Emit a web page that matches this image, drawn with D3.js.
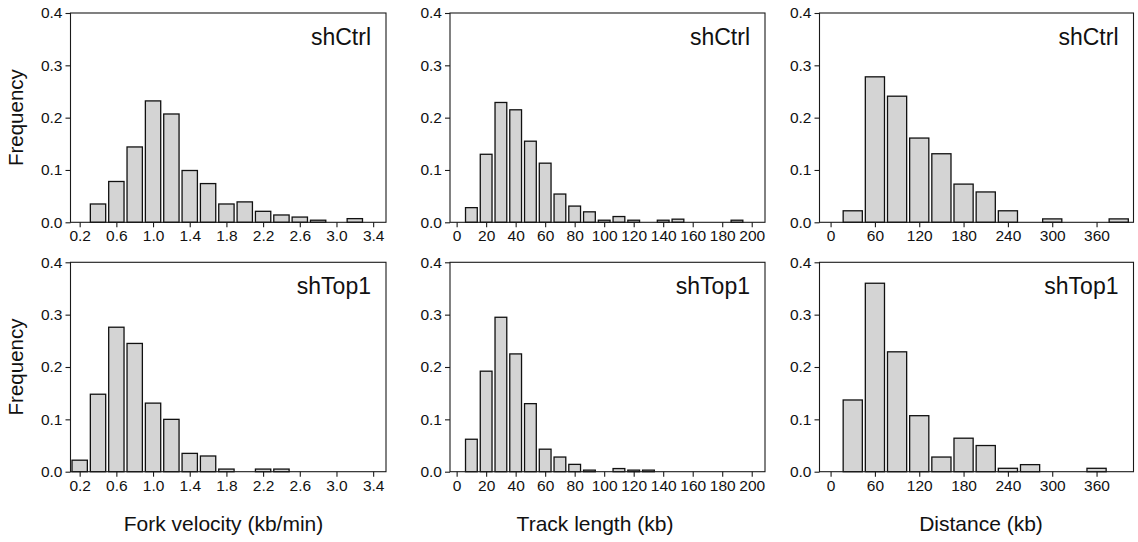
<!DOCTYPE html>
<html>
<head>
<meta charset="utf-8">
<script src="https://cdn.jsdelivr.net/npm/d3@7"></script>
<style>
  html, body { margin: 0; padding: 0; background: #fff; }
  svg { display: block; }
  text { font-family: "Liberation Sans", Arial, Helvetica, sans-serif; fill: #111; }
</style>
</head>
<body>
<svg id="chart" width="1138" height="542"></svg>
<script>
// ---------- data ----------
const velocityBinStarts = [0.1, 0.3, 0.5, 0.7, 0.9, 1.1, 1.3, 1.5, 1.7, 1.9, 2.1, 2.3, 2.5, 2.7, 2.9, 3.1];
const velocityBinWidth = 0.2;
const velocityCtrl = [0, 0.035, 0.078, 0.144, 0.232, 0.207, 0.099, 0.074, 0.035, 0.039, 0.021, 0.014, 0.010, 0.004, 0, 0.007];
const velocityTop1 = [0.022, 0.148, 0.276, 0.245, 0.131, 0.100, 0.035, 0.030, 0.005, 0, 0.005, 0.005, 0, 0, 0, 0];
const velocityTicks = [0.2, 0.6, 1.0, 1.4, 1.8, 2.2, 2.6, 3.0, 3.4];

const trackBinStarts = [5, 15, 25, 35, 45, 55, 65, 75, 85, 95, 105, 115, 125, 135, 145, 155, 165, 175, 185, 195];
const trackBinWidth = 10;
const trackCtrl = [0.028, 0.130, 0.229, 0.215, 0.155, 0.113, 0.054, 0.031, 0.020, 0.004, 0.011, 0.004, 0, 0.004, 0.006, 0, 0, 0, 0.004, 0];
const trackTop1 = [0.062, 0.192, 0.295, 0.225, 0.130, 0.043, 0.028, 0.014, 0.003, 0, 0.006, 0.003, 0.003, 0, 0, 0, 0, 0, 0, 0];
const trackTicks = [0, 20, 40, 60, 80, 100, 120, 140, 160, 180, 200];

const distBinStarts = [15, 45, 75, 105, 135, 165, 195, 225, 255, 285, 315, 345, 375];
const distBinWidth = 30;
const distCtrl = [0.022, 0.278, 0.241, 0.161, 0.131, 0.073, 0.058, 0.022, 0, 0.0065, 0, 0, 0.0065];
const distTop1 = [0.137, 0.360, 0.229, 0.107, 0.028, 0.064, 0.050, 0.0065, 0.0135, 0, 0, 0.0065, 0];
const distTicks = [0, 60, 120, 180, 240, 300, 360];

const yTicks = [0.0, 0.1, 0.2, 0.3, 0.4];
const groupLabels = ["shCtrl", "shTop1"];
const xTitles = ["Fork velocity (kb/min)", "Track length (kb)", "Distance (kb)"];
const yTitle = "Frequency";

// ---------- layout ----------
const columns = [
  { starts: velocityBinStarts, bw: velocityBinWidth, series: [velocityCtrl, velocityTop1], ticks: velocityTicks,
    domain: [0.1, 3.54], range: [70.5, 386], fmt: d3.format(".1f"), titleX: 223.5 },
  { starts: trackBinStarts, bw: trackBinWidth, series: [trackCtrl, trackTop1], ticks: trackTicks,
    domain: [-4.5, 209], range: [450, 765], fmt: d3.format("d"), titleX: 595 },
  { starts: distBinStarts, bw: distBinWidth, series: [distCtrl, distTop1], ticks: distTicks,
    domain: [-15, 410], range: [819.5, 1133.5], fmt: d3.format("d"), titleX: 981 }
];
const rows = [ { top: 13, bottom: 222.3 }, { top: 262.3, bottom: 471.7 } ];

const svg = d3.select("#chart");
const lineColor = "#1a1a1a";

columns.forEach((col, ci) => {
  const x = d3.scaleLinear().domain(col.domain).range(col.range);
  rows.forEach((row, ri) => {
    const y = d3.scaleLinear().domain([0, 0.4]).range([row.bottom, row.top]);
    const g = svg.append("g");
    const vals = col.series[ri];

    // bars
    const gap = 0.85;
    g.selectAll("rect.bar")
      .data(col.starts.map((s, i) => ({ s, v: vals[i] })).filter(d => d.v > 0))
      .enter().append("rect")
      .attr("class", "bar")
      .attr("x", d => x(d.s) + gap + 0.65)
      .attr("width", d => x(d.s + col.bw) - x(d.s) - 2 * gap - 1.3)
      .attr("y", d => y(d.v))
      .attr("height", d => y(0) - y(d.v))
      .attr("fill", "#d4d4d4")
      .attr("stroke", "#111")
      .attr("stroke-width", 1.3);

    // frame
    g.append("rect")
      .attr("x", col.range[0]).attr("y", row.top)
      .attr("width", col.range[1] - col.range[0])
      .attr("height", row.bottom - row.top)
      .attr("fill", "none").attr("stroke", lineColor).attr("stroke-width", 1.1);

    // x axis
    const xa = g.append("g")
      .attr("transform", `translate(0,${row.bottom})`)
      .call(d3.axisBottom(x).tickValues(col.ticks).tickFormat(col.fmt).tickSize(5).tickSizeOuter(0).tickPadding(3));
    xa.select(".domain").remove();
    xa.selectAll(".tick line").attr("stroke", lineColor).attr("stroke-width", 1.1);
    xa.selectAll(".tick text").attr("font-size", 15.5).attr("fill", "#111")
      .style("font-family", '"Liberation Sans", Arial, sans-serif');

    // y axis
    const ya = g.append("g")
      .attr("transform", `translate(${col.range[0]},0)`)
      .call(d3.axisLeft(y).tickValues(yTicks).tickFormat(d3.format(".1f")).tickSize(5).tickSizeOuter(0).tickPadding(3));
    ya.select(".domain").remove();
    ya.selectAll(".tick line").attr("stroke", lineColor).attr("stroke-width", 1.1);
    ya.selectAll(".tick text").attr("font-size", 15.5).attr("fill", "#111")
      .style("font-family", '"Liberation Sans", Arial, sans-serif');

    // group label
    g.append("text")
      .attr("x", col.range[1] - 15)
      .attr("y", row.top + 32)
      .attr("text-anchor", "end")
      .attr("font-size", 23)
      .text(groupLabels[ri]);

    // y title on first column
    if (ci === 0) {
      g.append("text")
        .attr("transform", `translate(22.5,${(row.top + row.bottom) / 2}) rotate(-90)`)
        .attr("text-anchor", "middle")
        .attr("font-size", 20.5)
        .text(yTitle);
    }
  });

  // x title
  svg.append("text")
    .attr("x", col.titleX)
    .attr("y", 531)
    .attr("text-anchor", "middle")
    .attr("font-size", 21)
    .text(xTitles[ci]);
});
</script>
</body>
</html>
